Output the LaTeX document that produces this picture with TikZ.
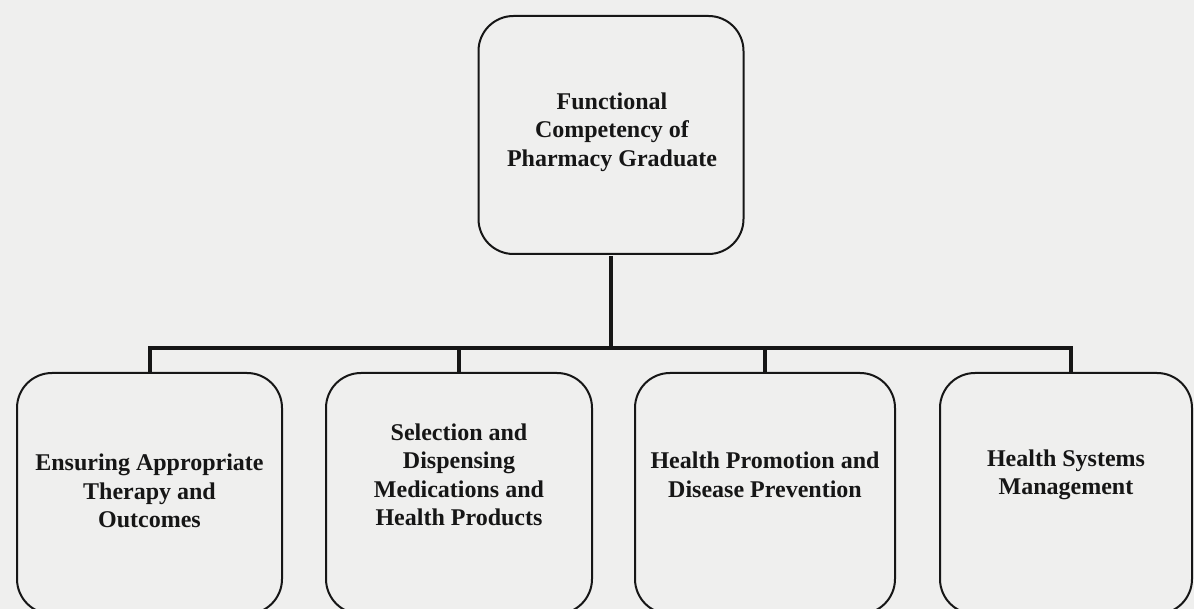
\documentclass[tikz,border=0pt]{standalone}
\usepackage{fontspec}
\setmainfont{Liberation Serif}
\definecolor{paper}{RGB}{239,239,238}
\definecolor{ink}{RGB}{22,22,22}
\tikzset{
  card/.style={draw=ink, line width=2pt, rounded corners=35pt, inner sep=0pt},
  cardtext/.style={align=center, text=ink, inner sep=0pt,
    font=\fontsize{24}{28.5}\selectfont\bfseries},
  bus/.style={draw=ink, line width=4pt, line join=miter, line cap=butt}
}
\begin{document}
\begin{tikzpicture}[x=1pt,y=-1pt]
  % canvas
  \fill[paper] (0,0) rectangle (1194,609);
  \useasboundingbox (0,0) rectangle (1194,609);

  % root card
  \node[card, minimum width=265pt, minimum height=238pt] (root) at (611,135) {};
  \node[cardtext] (troot) at (612,132) {Functional\\Competency of\\Pharmacy Graduate};

  % child cards
  \node[card, minimum width=265pt, minimum height=241pt] (c1) at (149.5,493.5) {};
  \node[card, minimum width=266pt, minimum height=241pt] (c2) at (459,493.5) {};
  \node[card, minimum width=260pt, minimum height=241pt] (c3) at (765,493.5) {};
  \node[card, minimum width=252pt, minimum height=241pt] (c4) at (1066,493.5) {};

  \node[cardtext] (t1) at (149.5,491) {Ensuring Appropriate\\Therapy and\\Outcomes};
  \node[cardtext] (t2) at (459,475) {Selection and\\Dispensing\\Medications and\\Health Products};
  \node[cardtext] (t3) at (765,475) {Health Promotion and\\Disease Prevention};
  \node[cardtext] (t4) at (1066,475) {Health Systems\\Management};

  % connectors
  \coordinate (busy) at (0,348);
  \coordinate (c4top) at ([xshift=5pt]c4.north);
  \draw[bus] ([yshift=-1pt]root.south) -- (root.south |- busy);
  \draw[bus] ([yshift=-1pt]c1.north) -- (c1.north |- busy) -- (c4top |- busy) -- ([yshift=-1pt]c4top);
  \draw[bus] ([yshift=-1pt]c2.north) -- (c2.north |- busy);
  \draw[bus] ([yshift=-1pt]c3.north) -- (c3.north |- busy);
\end{tikzpicture}
\end{document}
